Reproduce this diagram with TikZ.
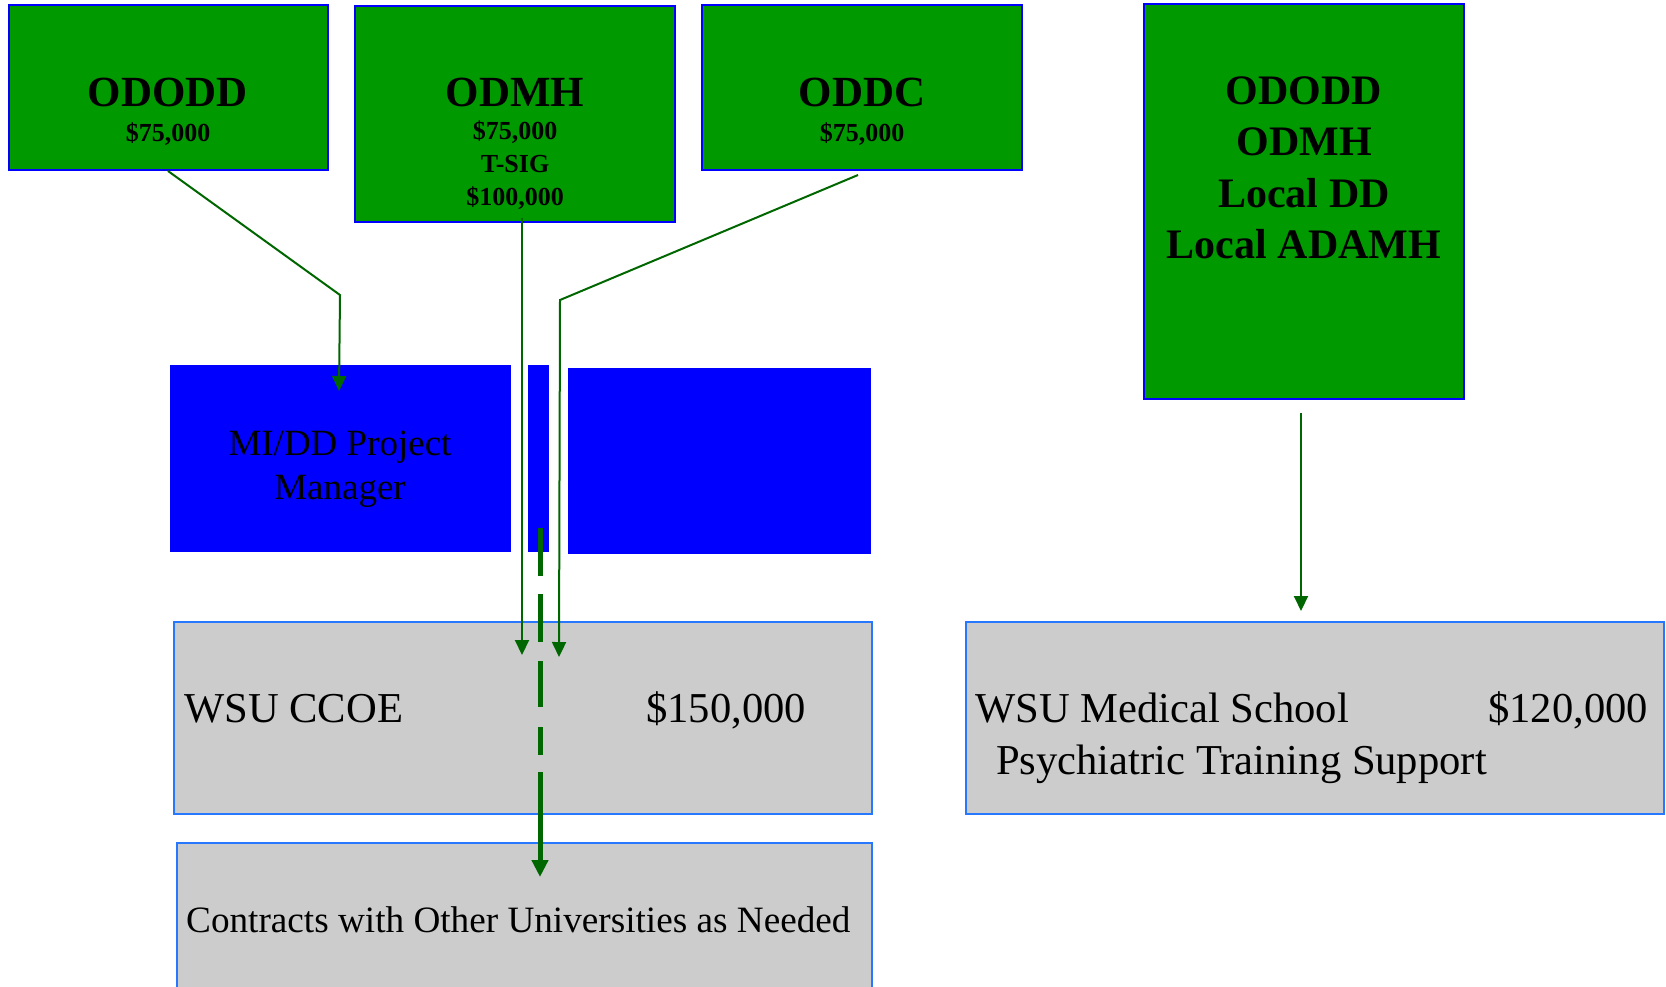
\documentclass[tikz,border=0pt]{standalone}
\usepackage{fontspec}
\setmainfont{Liberation Serif}
\usetikzlibrary{arrows.meta}
\usetikzlibrary{positioning}

\definecolor{fundgreen}{RGB}{0,153,0}
\definecolor{flowgreen}{RGB}{0,102,0}
\definecolor{staffblue}{RGB}{0,0,255}
\definecolor{granteegrey}{RGB}{204,204,204}
\definecolor{granteeedge}{RGB}{40,120,255}

\newcommand{\titlefont}{\fontsize{43}{33}\selectfont\bfseries}
\newcommand{\amountfont}{\fontsize{26}{33}\selectfont\bfseries}
\newcommand{\partnerfont}{\fontsize{42}{51.5}\selectfont\bfseries}
\newcommand{\stafffont}{\fontsize{37}{44}\selectfont}
\newcommand{\granteefont}{\fontsize{42.6}{52}\selectfont}
\newcommand{\contractfont}{\fontsize{37.2}{44}\selectfont}

\tikzset{
  fund/.style={draw=staffblue, line width=2pt, fill=fundgreen},
  staff/.style={fill=staffblue},
  grantee/.style={draw=granteeedge, line width=2pt, fill=granteegrey},
  flow/.style={draw=flowgreen, line width=2pt, ->},
  fundtext/.style={anchor=base, align=center, font=\titlefont},
}

\begin{document}
\begin{tikzpicture}[x=1pt, y=-1pt,
    >={Triangle[length=15pt,width=14pt]},
    on grid,
    inner sep=0pt]

  \clip (0,0) rectangle (1666,986);

  % funding sources
  \node[fund, minimum width=319pt, minimum height=165pt]
    (ODODD) at (168,87.5) {};
  \node[fund, minimum width=320pt, minimum height=216pt]
    (ODMH) at (515,114) {};
  \node[fund, minimum width=320pt, minimum height=165pt]
    (ODDC) [right=694pt of ODODD] {};
  \node[fund, minimum width=320pt, minimum height=395pt]
    (Partners) at (1304,201.5) {};

  % (base = last line)
  \node[fundtext] (ODODD-name) at (168,141) {ODODD\\[2pt]{\amountfont\$75,000}};
  \node[fundtext] (ODMH-name) at (515,205)
    {ODMH\\{\amountfont\$75,000}\\{\amountfont T-SIG}\\{\amountfont\$100,000}};
  \node[fundtext] (ODDC-name) at (862,141) {ODDC\\[2pt]{\amountfont\$75,000}};
  \node[fundtext, font=\partnerfont] (Partners-name) at (1304,258.5)
    {ODODD\\ODMH\\Local DD\\Local ADAMH};

  % project staff
  \node[staff, minimum width=341pt, minimum height=187pt]
    (Manager) at (340.5,458.5) {};
  \node[staff, minimum width=21pt, minimum height=187pt]
    (Gap) at (538.5,458.5) {};
  \node[staff, minimum width=303pt, minimum height=186pt]
    (Blank) at (719.5,461) {};

  \node[anchor=base, align=center, font=\stafffont]
    (Manager-name) at (340,499) {MI/DD Project\\Manager};

  % grantees
  \node[grantee, minimum width=698pt, minimum height=192pt]
    (CCOE) at (523,718) {};
  \node[grantee, minimum width=695pt, minimum height=157pt]
    (Contracts) at (524.5,921.5) {};
  \node[grantee, minimum width=698pt, minimum height=192pt]
    (MedSchool) [right=792pt of CCOE] {};

  \node[anchor=base west, font=\granteefont] (CCOE-name) at (184,722) {WSU CCOE};
  \node[anchor=base west, font=\granteefont] (CCOE-sum) at (646,722) {\$150,000};
  \node[anchor=base west, font=\granteefont] (MedSchool-name) at (975,722) {WSU Medical School};
  \node[anchor=base west, font=\granteefont] (MedSchool-sum) at (1488,722) {\$120,000};
  \node[anchor=base west, font=\granteefont] (MedSchool-role) at (996,774) {Psychiatric Training Support};
  \node[anchor=base west, font=\contractfont] (Contracts-name) at (186,932)
    {Contracts with Other Universities as Needed};

  % money flows
  \coordinate (ODODD-elbow) at (340,295);
  \coordinate (Manager-in) at (339,391);
  \coordinate (ODMH-out) at (522,218);
  \coordinate (CCOE-in-a) at (522,655);
  \coordinate (ODDC-out) at (858,175);
  \coordinate (ODDC-elbow) at (560,300);
  \coordinate (CCOE-in-b) at (559,657);
  \coordinate (Gap-out) at (540,528);
  \coordinate (Contracts-in) at (540,877);
  \coordinate (Partners-out) at (1301,413);
  \coordinate (MedSchool-in) at (1301,611);

  \draw[flow] (ODODD.south) -- (ODODD-elbow) -- (Manager-in);
  \draw[flow] (ODMH-out) -- (CCOE-in-a);
  \draw[flow] (ODDC-out) -- (ODDC-elbow) -- (CCOE-in-b);
  \draw[flow] (Partners-out) -- (MedSchool-in);
  \draw[flow, line width=5pt,
        dash pattern=on 48pt off 18pt on 48pt off 19pt on 46pt off 20pt on 28pt off 17pt on 300pt,
        -{Triangle[length=17pt,width=16pt]}]
    (Gap-out) -- (Contracts-in);

\end{tikzpicture}
\end{document}
